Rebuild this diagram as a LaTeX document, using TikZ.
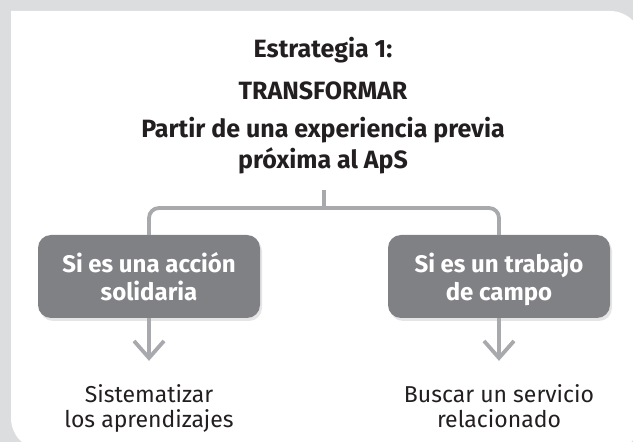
\documentclass[tikz,border=0pt]{standalone}
\usepackage{fontspec}
\setmainfont{Fira Sans}
\usepackage{tikz}
\usetikzlibrary{arrows.meta, shadows}
\definecolor{fondo}{HTML}{DCDDDE}
\definecolor{griscaja}{HTML}{808184}
\definecolor{linea}{HTML}{A7A9AC}
\definecolor{texto}{HTML}{231F20}

\begin{document}
\begin{tikzpicture}[x=1pt,y=1pt,auto,
                    conn/.style={draw=linea,line width=3.8pt},
                    arr/.style={conn,-{Straight Barb[length=17pt,width=30pt]}}]
\tikzstyle{titulo}=[inner sep=0pt,text height=16pt,text depth=5pt,text=texto,font=\fontsize{25pt}{30pt}\selectfont\bfseries]
\tikzstyle{caja}=[fill=griscaja,text=white,rounded corners=13pt,minimum width=222pt,minimum height=83pt,inner sep=0pt,align=center,text depth=0pt,font=\fontsize{24pt}{28pt}\selectfont\bfseries,drop shadow={shadow xshift=2pt,shadow yshift=-3pt,opacity=0.2}]
\tikzstyle{resul}=[inner sep=0pt,align=center,text depth=5pt,text=texto,font=\fontsize{23pt}{25pt}\selectfont]

        \useasboundingbox[fill=fondo] (0,0) rectangle (633,442);
        \fill[white] (11,431) -- (610,431) arc[start angle=90,end angle=0,radius=32]
                -- (642,24) arc[start angle=0,end angle=-90,radius=32]
                -- (43,-8) arc[start angle=270,end angle=180,radius=32] -- cycle;

        \node[titulo]                          (t0) at (323,389.5) {Estrategia 1:};
        \node[titulo, node distance=42pt]      (t1) [below of=t0]  {TRANSFORMAR};
        \node[titulo, node distance=38pt]      (t2) [below of=t1]  {Partir de una experiencia previa};
        \node[titulo, node distance=31pt]      (t3) [below of=t2]  {próxima al ApS};

        \node[caja]                            (A)  at (149,165.5) {Si es una acción\\solidaria};
        \node[caja]                            (B)  at (499,165.5) {Si es un trabajo\\de campo};

        \node[resul, node distance=132.5pt]    (a)  [below of=A]   {Sistematizar\\los aprendizajes};
        \node[resul, node distance=132.5pt]    (b)  [below of=B]   {Buscar un servicio\\relacionado};

        \coordinate (s) at (324,234);

        \draw[conn] ([yshift=-16pt]t3.south -| s) -- (s);
        \draw[conn, rounded corners=10pt] (A.north) |- (s) -| (B.north);
        \path[arr, shorten >=24pt]
        (A)   edge            (a)
        (B)   edge            (b)
        ; %end path

\end{tikzpicture}
\end{document}
